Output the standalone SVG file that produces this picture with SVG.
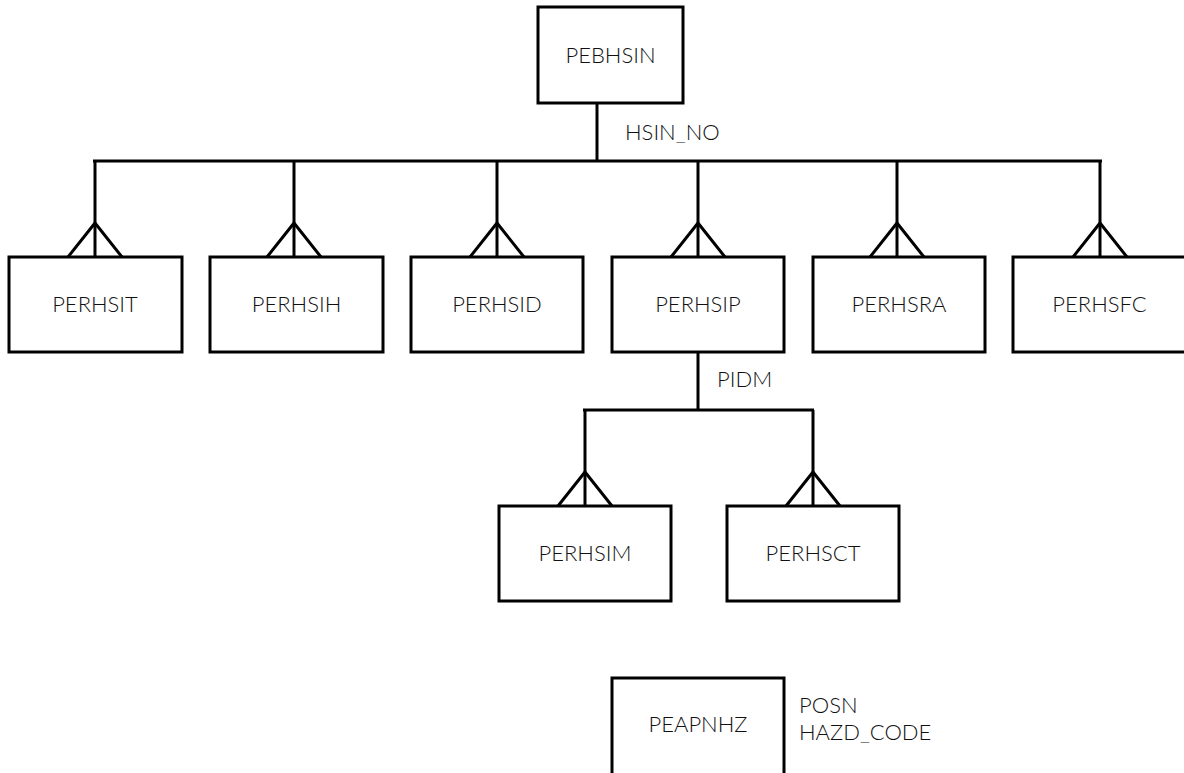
<svg xmlns="http://www.w3.org/2000/svg" width="1184" height="773" viewBox="0 0 1184 773">
  <style>
    .box { fill: #ffffff; stroke: #000000; stroke-width: 3; }
    .ln { fill: none; stroke: #000000; stroke-width: 3; stroke-linejoin: miter; }
    .lbl { font-family: Lato, "Liberation Sans", sans-serif; font-weight: 300; font-size: 22px; fill: #111111; text-anchor: middle; }
    .key { font-family: Lato, "Liberation Sans", sans-serif; font-weight: 300; font-size: 22px; fill: #111111; }
  </style>
  <defs>
    <!-- crow's foot: apex 34 above box top, feet 27 either side -->
    <path id="crow" d="M -27 0 L 0 -34 L 27 0" class="ln"/>
  </defs>
  <rect width="1184" height="773" fill="#ffffff"/>

  <g id="connectors">
    <!-- PEBHSIN to its six children -->
    <path class="ln" d="M 597 103 V 161"/>
    <path class="ln" d="M 93 161 H 1102"/>
    <path class="ln" d="M 95 161 V 257"/>
    <path class="ln" d="M 294 161 V 257"/>
    <path class="ln" d="M 497 161 V 257"/>
    <path class="ln" d="M 698 161 V 257"/>
    <path class="ln" d="M 897 161 V 257"/>
    <path class="ln" d="M 1100 161 V 257"/>
    <use href="#crow" x="95" y="257"/>
    <use href="#crow" x="294" y="257"/>
    <use href="#crow" x="497" y="257"/>
    <use href="#crow" x="698" y="257"/>
    <use href="#crow" x="897" y="257"/>
    <use href="#crow" x="1100" y="257"/>
    <text class="key" x="625" y="140">HSIN_NO</text>

    <!-- PERHSIP to its two children -->
    <path class="ln" d="M 698 352 V 410"/>
    <path class="ln" d="M 583 410 H 814"/>
    <path class="ln" d="M 585 410 V 506"/>
    <path class="ln" d="M 813 410 V 506"/>
    <use href="#crow" x="585" y="506"/>
    <use href="#crow" x="813" y="506"/>
    <text class="key" x="717" y="387">PIDM</text>
  </g>

  <g id="PEBHSIN">
    <rect class="box" x="538" y="7" width="145" height="96"/>
    <text class="lbl" x="610.5" y="63">PEBHSIN</text>
  </g>
  <g id="PERHSIT">
    <rect class="box" x="9" y="257" width="173" height="95"/>
    <text class="lbl" x="95" y="312">PERHSIT</text>
  </g>
  <g id="PERHSIH">
    <rect class="box" x="210" y="257" width="173" height="95"/>
    <text class="lbl" x="296.5" y="312">PERHSIH</text>
  </g>
  <g id="PERHSID">
    <rect class="box" x="411" y="257" width="172" height="95"/>
    <text class="lbl" x="497" y="312">PERHSID</text>
  </g>
  <g id="PERHSIP">
    <rect class="box" x="612" y="257" width="172" height="95"/>
    <text class="lbl" x="698" y="312">PERHSIP</text>
  </g>
  <g id="PERHSRA">
    <rect class="box" x="813" y="257" width="172" height="95"/>
    <text class="lbl" x="899" y="312">PERHSRA</text>
  </g>
  <g id="PERHSFC">
    <rect class="box" x="1013" y="257" width="173" height="95"/>
    <text class="lbl" x="1099.5" y="312">PERHSFC</text>
  </g>
  <g id="PERHSIM">
    <rect class="box" x="499" y="506" width="172" height="95"/>
    <text class="lbl" x="585" y="561">PERHSIM</text>
  </g>
  <g id="PERHSCT">
    <rect class="box" x="727" y="506" width="172" height="95"/>
    <text class="lbl" x="813" y="561">PERHSCT</text>
  </g>
  <g id="PEAPNHZ">
    <rect class="box" x="612" y="678" width="172" height="97"/>
    <text class="lbl" x="698" y="732">PEAPNHZ</text>
    <text class="key" x="799" y="713">POSN</text>
    <text class="key" x="799" y="740">HAZD_CODE</text>
  </g>
</svg>
